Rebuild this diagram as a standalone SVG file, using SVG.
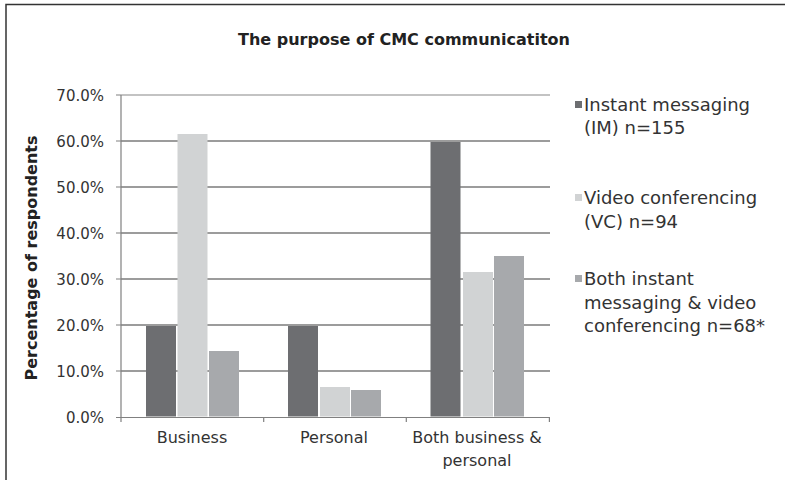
<svg xmlns="http://www.w3.org/2000/svg" width="785" height="480" viewBox="0 0 785 480">
<style>
  text { font-family: "DejaVu Sans", "Liberation Sans", sans-serif; fill: #333333; }
  .title { font-size: 16px; font-weight: bold; fill: #222222; }
  .ytitle { font-size: 16px; font-weight: bold; fill: #222222; }
  .tick { font-size: 15px; text-anchor: end; }
  .cat { font-size: 16px; text-anchor: middle; }
  .leg { font-size: 18px; }
  .grid { stroke: #3a3a3a; stroke-width: 1.2; }
  .axis { stroke: #808080; stroke-width: 1.2; fill: none; }
  .im { fill: #6d6e71; }
  .vc { fill: #d1d3d4; }
  .both { fill: #a7a9ac; }
</style>
<rect width="785" height="480" fill="#ffffff"/>
<g id="frame">
  <path d="M6 480 V4.5 H785" fill="none" stroke="#333333" stroke-width="1.5"/>
</g>
<g id="title">
  <text class="title" x="404" y="45" text-anchor="middle">The purpose of CMC communicatiton</text>
</g>
<g id="y-axis-title">
  <text class="ytitle" transform="translate(37 258) rotate(-90)" text-anchor="middle">Percentage of respondents</text>
</g>
<g id="gridlines">
  <line class="grid" x1="121" y1="371" x2="550" y2="371"/>
  <line class="grid" x1="121" y1="325" x2="550" y2="325"/>
  <line class="grid" x1="121" y1="279" x2="550" y2="279"/>
  <line class="grid" x1="121" y1="233" x2="550" y2="233"/>
  <line class="grid" x1="121" y1="187" x2="550" y2="187"/>
  <line class="grid" x1="121" y1="141" x2="550" y2="141"/>
  <line x1="121" y1="95" x2="550" y2="95" stroke="#888888" stroke-width="1.2"/>
</g>
<g id="bars">
  <g id="business">
    <rect class="im" x="146" y="326" width="30" height="90.5"/>
    <rect class="vc" x="177.5" y="134" width="30" height="282.5"/>
    <rect class="both" x="209" y="351" width="30" height="65.5"/>
  </g>
  <g id="personal">
    <rect class="im" x="288" y="326" width="30" height="90.5"/>
    <rect class="vc" x="320" y="387" width="30" height="29.5"/>
    <rect class="both" x="351" y="390" width="30" height="26.5"/>
  </g>
  <g id="both-business-personal">
    <rect class="im" x="430.5" y="142" width="30" height="274.5"/>
    <rect class="vc" x="463" y="272" width="30" height="144.5"/>
    <rect class="both" x="494" y="256" width="30" height="160.5"/>
  </g>
</g>
<g id="axes">
  <path class="axis" d="M121 95 V417.5 H550"/>
  <path class="axis" d="M116 95 H121 M116 141 H121 M116 187 H121 M116 233 H121 M116 279 H121 M116 325 H121 M116 371 H121 M116 417.5 H121"/>
  <path class="axis" d="M121 417.5 V422 M263.7 417.5 V422 M406.3 417.5 V422 M549.4 417.5 V422"/>
</g>
<g id="y-labels">
  <text class="tick" x="104" y="101">70.0%</text>
  <text class="tick" x="104" y="147">60.0%</text>
  <text class="tick" x="104" y="193">50.0%</text>
  <text class="tick" x="104" y="239">40.0%</text>
  <text class="tick" x="104" y="285">30.0%</text>
  <text class="tick" x="104" y="331">20.0%</text>
  <text class="tick" x="104" y="377">10.0%</text>
  <text class="tick" x="104" y="423">0.0%</text>
</g>
<g id="x-labels">
  <text class="cat" x="192" y="443">Business</text>
  <text class="cat" x="334" y="443">Personal</text>
  <text class="cat" x="477" y="443">Both business &amp;</text>
  <text class="cat" x="477" y="466">personal</text>
</g>
<g id="legend">
  <g id="legend-im">
    <rect class="im" x="575" y="101" width="7" height="7"/>
    <text class="leg" x="584" y="111">Instant messaging</text>
    <text class="leg" x="584" y="134">(IM) n=155</text>
  </g>
  <g id="legend-vc">
    <rect class="vc" x="575" y="194" width="7" height="7"/>
    <text class="leg" x="584" y="204">Video conferencing</text>
    <text class="leg" x="584" y="228">(VC) n=94</text>
  </g>
  <g id="legend-both">
    <rect class="both" x="575" y="275" width="7" height="7"/>
    <text class="leg" x="584" y="285">Both instant</text>
    <text class="leg" x="584" y="309">messaging &amp; video</text>
    <text class="leg" x="584" y="332">conferencing n=68*</text>
  </g>
</g>
</svg>
